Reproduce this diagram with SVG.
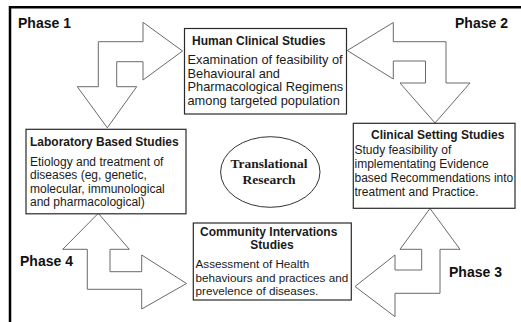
<svg xmlns="http://www.w3.org/2000/svg" width="521" height="322" viewBox="0 0 521 322">
  <style>
    .frame { stroke: #000; stroke-width: 2.5; fill: none; }
    .arrow { fill: #fff; stroke: #6a6a6a; stroke-width: 1; stroke-linejoin: miter; }
    .box { fill: #fff; stroke: #2a2a2a; stroke-width: 1.2; }
    .phase { font-family: "Liberation Sans", Arial, sans-serif; font-size: 14px; font-weight: bold; fill: #111; }
    .title { font-family: "Liberation Sans", Arial, sans-serif; font-size: 12px; font-weight: bold; fill: #1a1a1a; }
    .body { font-family: "Liberation Sans", Arial, sans-serif; font-size: 12px; fill: #1a1a1a; }
    .body-lg { font-size: 12.8px; }
    .body-sm { font-size: 11.7px; }
    .center { font-family: "Liberation Serif", "Times New Roman", serif; font-size: 13.5px; font-weight: bold; fill: #1a1a1a; }
  </style>

  <rect width="521" height="322" fill="#fff"/>
  <path class="frame" d="M10 322 V7.2 H521"/>

  <!-- Bent block arrows between the four study stages -->
  <g id="connectors">
    <polygon id="arrow-phase1" class="arrow" points="182.5,51 143,22.3 143,41.7 98.3,41.7 98.3,86.7 77.3,86.7 107.3,127.8 136.7,86.7 116.7,86.7 116.7,61.7 143,61.7 143,80"/>
    <polygon id="arrow-phase2" class="arrow" points="347.3,50.5 393.3,22.5 393.3,41.7 446,41.7 446,83 470,83 435,123 400,83 425.5,83 425.5,61 393.3,61 393.3,79"/>
    <polygon id="arrow-phase3" class="arrow" points="430,208.5 460,249.3 440,249.3 440,293.3 395,293.3 395,316.7 355,286.5 395,255 395,270 421.7,270 421.7,249.3 400,249.3"/>
    <polygon id="arrow-phase4" class="arrow" points="98.3,213.3 129.3,249.3 110,249.3 110,271.7 141.7,271.7 141.7,255 186.5,283.5 141.7,309 141.7,289.3 87.3,289.3 87.3,249.3 62.7,249.3"/>
  </g>

  <!-- Phase labels -->
  <g id="phase-labels">
    <text class="phase" x="18" y="28">Phase 1</text>
    <text class="phase" x="455" y="28">Phase 2</text>
    <text class="phase" x="449" y="277">Phase 3</text>
    <text class="phase" x="20" y="266">Phase 4</text>
  </g>

  <g id="human-clinical">
    <rect class="box" x="184.5" y="28.5" width="162" height="85.5"/>
    <text class="title" x="192" y="45">Human Clinical Studies</text>
    <text class="body body-lg" x="187.5" y="64">Examination of feasibility of</text>
    <text class="body body-lg" x="187.5" y="77.5">Behavioural and</text>
    <text class="body body-lg" x="187.5" y="91">Pharmacological Regimens</text>
    <text class="body body-lg" x="187.5" y="104.5">among targeted population</text>
  </g>

  <g id="laboratory">
    <rect class="box" x="26" y="129.3" width="160" height="84.5"/>
    <text class="title" x="30" y="146">Laboratory Based Studies</text>
    <text class="body" x="30" y="166">Etiology and treatment of</text>
    <text class="body" x="30" y="179.3">diseases (eg, genetic,</text>
    <text class="body" x="30" y="192.6">molecular, immunological</text>
    <text class="body" x="30" y="205.9">and pharmacological)</text>
  </g>

  <g id="translational">
    <ellipse cx="270.3" cy="172" rx="49.7" ry="35.3" fill="#fff" stroke="#333" stroke-width="1"/>
    <text class="center" x="269" y="167.5" text-anchor="middle">Translational</text>
    <text class="center" x="269" y="183.5" text-anchor="middle">Research</text>
  </g>

  <g id="clinical-setting">
    <rect class="box" x="353.3" y="123.3" width="161.7" height="85"/>
    <text class="title" x="371" y="139">Clinical Setting Studies</text>
    <text class="body" x="354.5" y="153.5">Study feasibility of</text>
    <text class="body" x="354.5" y="167.5">implementating  Evidence</text>
    <text class="body" x="354.5" y="181.5">based Recommendations into</text>
    <text class="body" x="354.5" y="195.5">treatment and Practice.</text>
  </g>

  <g id="community">
    <rect class="box" x="193.3" y="223" width="158" height="77"/>
    <text class="title" x="200" y="236">Community Intervations</text>
    <text class="title" x="272" y="249" text-anchor="middle">Studies</text>
    <text class="body body-sm" x="195.5" y="268">Assessment of Health</text>
    <text class="body body-sm" x="195.5" y="281.5">behaviours and practices and</text>
    <text class="body body-sm" x="195.5" y="295">prevelence of diseases.</text>
  </g>
</svg>
